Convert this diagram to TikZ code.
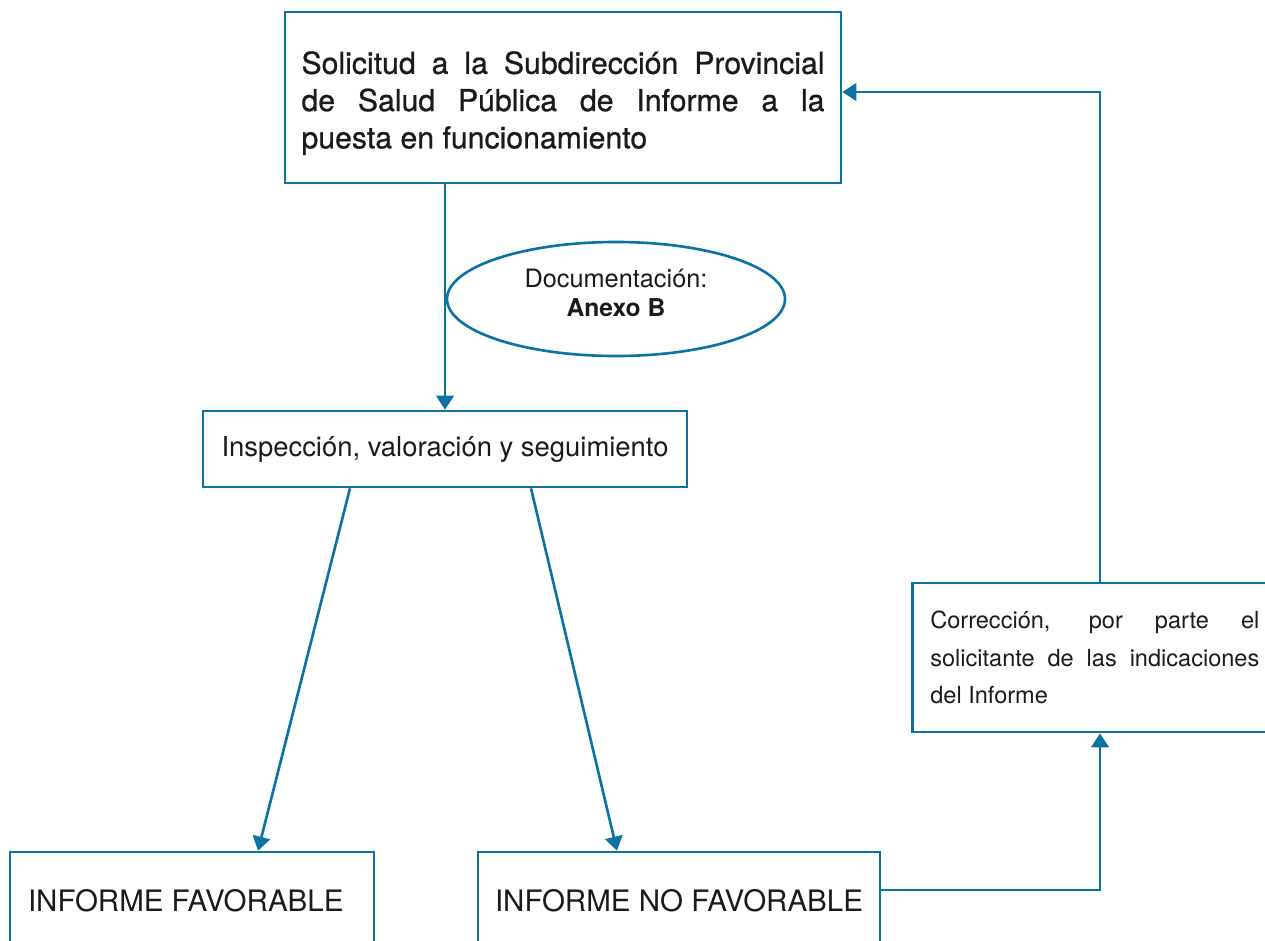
\documentclass[tikz,border=0pt]{standalone}
\usepackage{fontspec}
\setmainfont{TeX Gyre Heros}
\newfontfamily\medio[FakeBold=0.8]{TeX Gyre Heros}
\usepackage{tikz}
\usetikzlibrary{positioning,shapes.geometric,arrows.meta}
\definecolor{azul}{HTML}{0B72A3}
\definecolor{tinta}{HTML}{1A1A1A}

\begin{document}
\begin{tikzpicture}[x=1cm,y=1cm,
    caja/.style={draw=azul,line width=0.75pt,rectangle,text=tinta,inner sep=0pt},
    flecha/.style={draw=azul,line width=0.75pt,-{Triangle[length=4pt,width=5pt]}},
    linea/.style={draw=azul,line width=0.75pt}]
        \useasboundingbox (0,0) rectangle (12.65,9.4);
        \clip (0,0) rectangle (12.65,9.4);
        % cajas
        \node[caja,minimum width=5.56cm,minimum height=1.71cm,text width=5.23cm,align=justify,
          font=\medio\fontsize{8.6pt}{10.6pt}\selectfont] (solicitud) at (5.63,8.425)
          {\rule{0pt}{9.6pt}Solicitud a la Subdirección Provincial\linebreak de Salud Pública de Informe a la\linebreak puesta en funcionamiento};
        \node[ellipse,draw=azul,line width=0.75pt,text=tinta,minimum width=3.38cm,minimum height=1.14cm,
          inner sep=0pt,align=center,font=\fontsize{7.2pt}{8.2pt}\selectfont] (anexo) at (6.16,6.41)
          {Documentación:\\{\fontsize{7pt}{8.2pt}\selectfont\bfseries Anexo B}\rule[-3.4pt]{0pt}{3.4pt}};
        \node[caja,minimum width=4.84cm,minimum height=0.76cm,font=\fontsize{7.8pt}{9pt}\selectfont] (inspeccion) at (4.45,4.91)
          {Inspección, valoración y seguimiento};
        \node[caja,minimum width=3.64cm,minimum height=0.98cm,text width=3.28cm,inner xsep=0.18cm,align=flush left,
          font=\fontsize{8.4pt}{9pt}\selectfont] (favorable) at (1.92,0.39)
          {INFORME FAVORABLE};
        \node[caja,minimum width=4.02cm,minimum height=0.98cm,font=\fontsize{8.4pt}{9pt}\selectfont] (nofavorable) at (6.79,0.39)
          {INFORME NO FAVORABLE};
        \node[caja,anchor=west,minimum height=1.49cm,text width=3.29cm,inner xsep=0.18cm,align=justify,
          font=\fontsize{6.7pt}{10.6pt}\selectfont] (correccion) at (9.11,2.825)
          {Corrección, por parte el\linebreak solicitante de las indicaciones\linebreak del Informe};
        \coordinate (giro) at (11.00,0);
        \coordinate (llegada) at ([yshift=0.055cm]solicitud.east);
        % conectores
        \draw[flecha] (solicitud.south -| inspeccion) -- (inspeccion.north);
        \draw[flecha] ([xshift=-0.95cm]inspeccion.south) -- ([xshift=0.66cm]favorable.north);
        \draw[flecha] ([xshift=0.86cm]inspeccion.south) -- ([xshift=-0.62cm]nofavorable.north);
        \draw[flecha] ([yshift=0.11cm]nofavorable.east) -| (giro |- correccion.south);
        \draw[flecha] (giro |- correccion.north) |- (llegada);
      \end{tikzpicture}
\end{document}
